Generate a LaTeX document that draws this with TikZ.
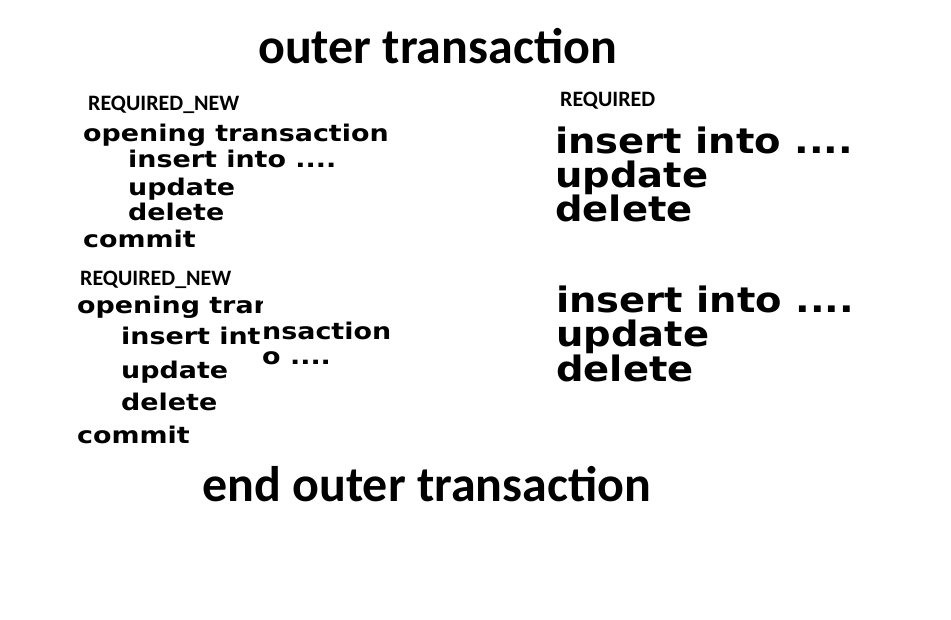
\documentclass[tikz,border=0pt]{standalone}
\usepackage{fontspec}
\setmainfont{Carlito}
\newfontfamily\verd{DejaVu Sans}
\usetikzlibrary{positioning}
\tikzset{
  title/.style={anchor=base west, inner sep=0pt, font=\bfseries\fontsize{50}{60}\selectfont},
  mode/.style={anchor=base west, inner sep=0pt, font=\bfseries\fontsize{22}{26}\selectfont},
  stmt/.style={anchor=base west, inner sep=0pt, font=\verd\bfseries\fontsize{23}{28}\selectfont},
  bigstmt/.style={anchor=base west, inner sep=0pt, font=\verd\bfseries\fontsize{35}{40}\selectfont}
}
\newcommand{\wide}[1]{\scalebox{1.17}[1]{#1}}
\newcommand{\wider}[1]{\scalebox{1.1}[1]{#1}}

\begin{document}
\begin{tikzpicture}[x=1pt, y=-1pt]
\fill[white] (0,0) rectangle (951,620);
\useasboundingbox (0,0) rectangle (951,620);

\node[title] (outer) at (258,64) {outer transaction};

% first inner block
\node[mode] (new1) at (88,111) {REQUIRED\_NEW};
\node[stmt] (open1) at (83,142) {\wide{opening transaction}};
\node[stmt] (ins1) at (128,168) {\wide{insert into ....}};
\node[stmt] (upd1) at (128,196) {\wide{update}};
\node[stmt] (del1) at (128,221) {\wide{delete}};
\node[stmt] (com1) at (83,248) {\wide{commit}};

\node[mode] (req1) at (560,107) {REQUIRED};
\node[bigstmt] (ins3) at (555,154) {\wider{insert into ....}};
\node[bigstmt] (upd3) at (555,188) {\wider{update}};
\node[bigstmt] (del3) at (555,222) {\wider{delete}};

% second inner block
\node[mode] (new2) at (80,286) {REQUIRED\_NEW};
\begin{scope}
  \clip (0,290) rectangle (262,322);
  \node[stmt] (open2) at (77,314) {\wide{opening transaction}};
\end{scope}
\node[stmt] (ins2) at (121,345) {\wide{insert int}};
\node[stmt] (open2b) at (262,340) {\wide{nsaction}};
\node[stmt] (ins2b) at (262,365) {\wide{o ....}};
\node[stmt] (upd2) at (121,379) {\wide{update}};
\node[stmt] (del2) at (121,410) {\wide{delete}};
\node[stmt] (com2) at (77,443) {\wide{commit}};

\node[bigstmt] (ins4) at (556,313) {\wider{insert into ....}};
\node[bigstmt] (upd4) at (556,347) {\wider{update}};
\node[bigstmt] (del4) at (556,382) {\wider{delete}};

\node[title] (endouter) at (202,501) {end outer transaction};
\end{tikzpicture}
\end{document}
